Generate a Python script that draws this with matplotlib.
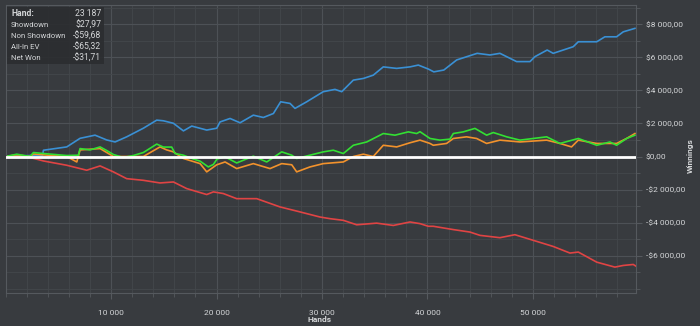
import matplotlib
matplotlib.use('Agg')
import matplotlib.pyplot as plt
from matplotlib.ticker import MultipleLocator, FixedLocator, FuncFormatter
from matplotlib.patches import Rectangle

# 데이터
showdown_x = [0, 2300, 3500, 3590, 5800, 7060, 8480, 9590, 10380, 11480, 13060, 14330, 14960,
              15910, 16860, 17650, 19070, 20020, 20330, 21280, 22230, 23490, 24440, 25390, 26080,
              26970, 27440, 28550, 30120, 31230, 31870, 32970, 33920, 34860, 35810, 37080, 38340,
              39130, 40080, 40600, 41550, 42770, 44710, 45920, 46870, 48450, 49720, 50190, 51350,
              51920, 53820, 54300, 56050, 56820, 57930, 58560, 59670]
showdown_y = [0, 60, 50, 380, 580, 1100, 1290, 1000, 880, 1190, 1710, 2200, 2160,
              2010, 1550, 1840, 1600, 1710, 2090, 2300, 2040, 2500, 2360, 2600, 3310,
              3210, 2910, 3310, 3920, 4060, 3920, 4620, 4720, 4920, 5420, 5330, 5420,
              5530, 5290, 5120, 5230, 5840, 6240, 6140, 6240, 5740, 5740, 6040, 6440,
              6240, 6640, 6940, 6940, 7240, 7240, 7540, 7750]

nonshowdown_x = [0, 2320, 3590, 5800, 7690, 8960, 10220, 11480, 13060, 14640, 15910, 17170,
                 19070, 19700, 20640, 21910, 23810, 26020, 27600, 29810, 30760, 32020, 33290,
                 35180, 36760, 38340, 39290, 40080, 40550, 42450, 44030, 44980, 46870, 48290,
                 50030, 51920, 53510, 54300, 56050, 57770, 58560, 59510, 59760]
nonshowdown_y = [0, -60, -270, -530, -830, -570, -930, -1340, -1440, -1600, -1540, -1940,
                 -2300, -2140, -2240, -2550, -2550, -3050, -3300, -3660, -3760, -3860, -4130,
                 -4030, -4170, -3960, -4060, -4220, -4220, -4420, -4570, -4770, -4910, -4730,
                 -5070, -5440, -5840, -5780, -6390, -6690, -6590, -6530, -6630]

allin_x = [0, 1060, 2320, 2640, 3590, 5800, 6750, 7060, 8960, 10220, 13060, 14640, 15270, 15910,
           16860, 18440, 19070, 20020, 20810, 21910, 23490, 25070, 26180, 27130, 27600, 28860,
           30120, 32020, 32970, 33920, 34860, 35810, 37080, 38340, 39290, 40240, 40550, 41810,
           42450, 43710, 44660, 45610, 46870, 48770, 51300, 52560, 53660, 54300, 56050, 57930,
           58880, 59670]
allin_y = [0, 100, 0, 150, 100, 0, -330, 400, 480, 0, 0, 580, 400, 280,
           -120, -430, -930, -500, -330, -730, -430, -730, -430, -500, -930, -630,
           -430, -330, 0, 140, 0, 680, 580, 830, 990, 790, 680, 790,
           1090, 1190, 1090, 790, 990, 880, 990, 790, 580, 990, 790, 790,
           1090, 1390]

netwon_x = [0, 1060, 2320, 2640, 3590, 5800, 6900, 7060, 8010, 8960, 9590, 10220, 11160, 12110,
            13060, 14330, 14960, 15750, 16070, 16860, 17650, 18440, 19220, 19700, 20050, 20810,
            21910, 23490, 24760, 26180, 27130, 27600, 28860, 30120, 31070, 32020, 32970, 34240,
            35810, 36920, 38180, 38980, 39290, 40240, 41180, 42130, 42450, 43390, 44500, 45610,
            46240, 47510, 48770, 50030, 51300, 52560, 54300, 56050, 57300, 57930, 58880, 59670]
netwon_y = [0, 140, 0, 240, 180, 60, 80, 480, 400, 580, 360, 120, -60, 60,
            240, 750, 570, 570, 180, 80, -120, -280, -630, -480, -150, -20,
            -390, 20, -330, 280, 80, -120, 80, 280, 380, 180, 680, 880,
            1390, 1290, 1490, 1390, 1500, 1090, 990, 1050, 1390, 1490, 1700, 1290,
            1450, 1190, 990, 1090, 1190, 790, 1090, 680, 880, 680, 1090, 1290]

y_ticks = [-6000, -4000, -2000, 0, 2000, 4000, 6000, 8000]
x_ticks = [10000, 20000, 30000, 40000, 50000]

stat_names = ['Hand:', 'Showdown', 'Non Showdown', 'All-In EV', 'Net Won']
stat_values = ['23 187', '$27,97', '-$59,68', '-$65,32', '-$31,71']

plt.rcParams['font.family'] = ['Roboto', 'DejaVu Sans']

bg = '#383b3f'
text_color = '#d4d6d8'

fig = plt.figure(figsize=(7, 3.26), dpi=100, facecolor=bg)
ax = fig.add_axes([0.008, 0.101, 0.901, 0.884])
ax.set_facecolor(bg)

ax.plot(showdown_x, showdown_y, color='#3a90d4', lw=1.2)
ax.plot(nonshowdown_x, nonshowdown_y, color='#e04444', lw=1.2)
ax.plot(allin_x, allin_y, color='#f2922c', lw=1.2)
ax.plot(netwon_x, netwon_y, color='#33e033', lw=1.2)
ax.axhline(0, color='white', lw=2, zorder=5)

ax.set_xlim(0, 59800)
ax.set_ylim(-8260, 9170)

ax.xaxis.set_major_locator(FixedLocator(x_ticks))
ax.xaxis.set_minor_locator(MultipleLocator(2000))
ax.yaxis.set_major_locator(FixedLocator(y_ticks))
ax.yaxis.set_minor_locator(MultipleLocator(1000))

def money(v, pos):
    s = '{:,.2f}'.format(abs(v)).replace(',', ' ').replace('.', ',')
    return ('-$' if v < 0 else '$') + s

def hands(v, pos):
    return '{:,.0f}'.format(v).replace(',', ' ')

ax.yaxis.set_major_formatter(FuncFormatter(money))
ax.xaxis.set_major_formatter(FuncFormatter(hands))
ax.yaxis.tick_right()

ax.grid(which='major', color='#4d5156', lw=0.8)
ax.grid(which='minor', color='#43474b', lw=0.6)
ax.set_axisbelow(True)

ax.tick_params(which='both', colors='#55595e', labelcolor=text_color, labelsize=6)
ax.tick_params(which='major', length=4, pad=3)
ax.tick_params(which='minor', length=3)
ax.tick_params(axis='x', pad=8)
for sp in ax.spines.values():
    sp.set_color('#55595e')

# 축 제목
fig.text(320 / 700, 1 - 319 / 326, 'Hands', color=text_color, fontsize=6,
         fontweight='bold', ha='center', va='center')
fig.text(690 / 700, 1 - 156 / 326, 'Winnings', color=text_color, fontsize=6,
         fontweight='bold', ha='center', va='center', rotation=90)

# 통계 박스
fig.patches.append(Rectangle((7 / 700, 1 - 64 / 326), 97 / 700, 57 / 326,
                             transform=fig.transFigure, facecolor='#2b2d30',
                             alpha=0.9, edgecolor='none', zorder=10))
for i, (n, v) in enumerate(zip(stat_names, stat_values)):
    y = 1 - (14 + i * 11) / 326
    w = 'bold' if i == 0 else 'normal'
    fig.text(11 / 700, y, n, color=text_color, fontsize=5.6 if i else 6.2,
             fontweight=w, va='center', ha='left', zorder=11)
    fig.text(101 / 700, y, v, color=text_color, fontsize=6.2,
             va='center', ha='right', zorder=11)

fig.savefig('out.png', dpi=100, facecolor=bg)
